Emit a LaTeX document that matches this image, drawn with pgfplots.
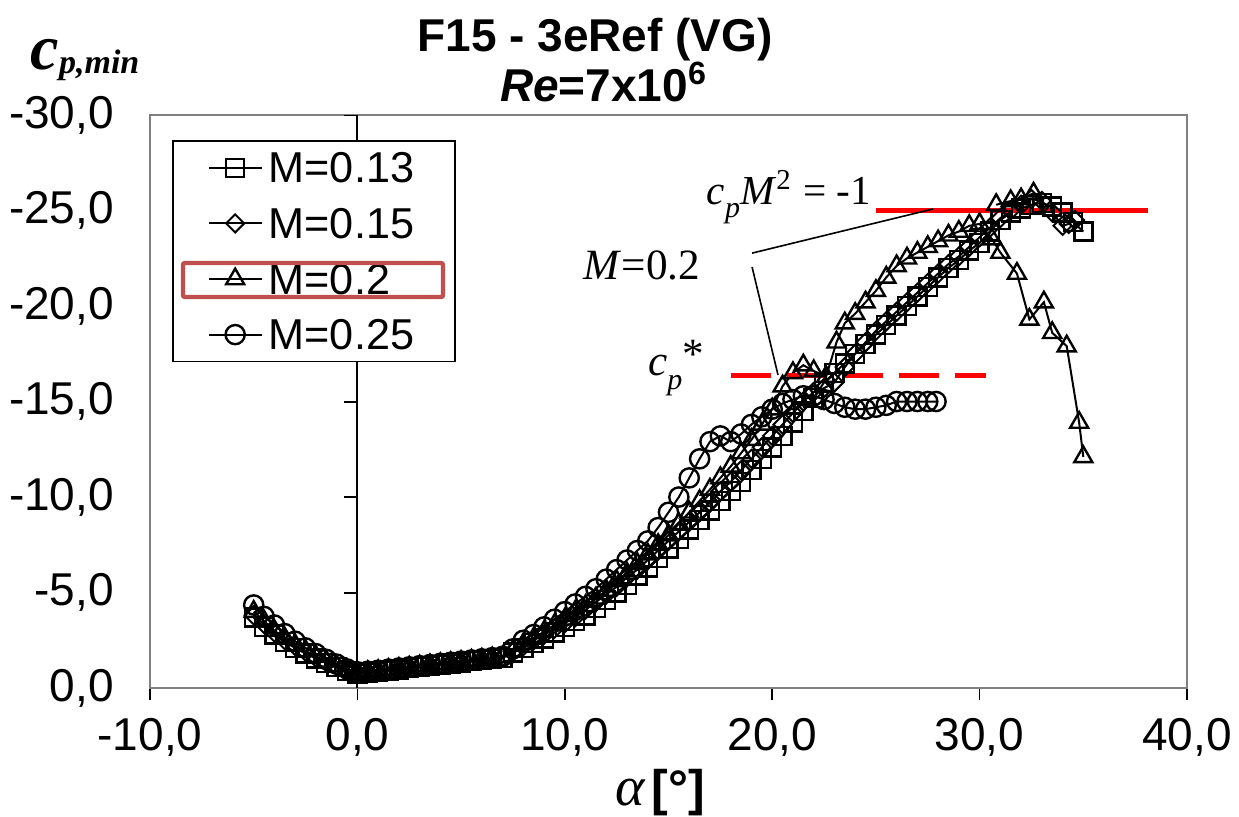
\documentclass[border=0pt]{standalone}
\usepackage{pgfplots}
\pgfplotsset{compat=1.18}
\usepackage{fontspec}
\setmainfont{Liberation Sans}
\newfontfamily\tnr{Liberation Serif}
\definecolor{legred}{HTML}{C0504D}
\definecolor{axgray}{HTML}{808080}
\begin{document}
\begin{tikzpicture}[x=1pt,y=1pt]
\begin{axis}[
  at={(0,0)}, anchor=south west,
  width=259.25pt, height=143.25pt, scale only axis,
  xmin=-10, xmax=40, ymin=-30, ymax=0, y dir=reverse,
  xtick={-10,0,...,40}, ytick={-30,-25,...,0},
  xtick pos=lower, ytick pos=left,
  axis line style={axgray, line width=0.6pt},
  tick align=outside,
  xtick style={black, line width=0.4pt},
  major tick length=3pt,
  ytick style={draw=none},
  tick label style={font=\fontsize{11.5}{12}\selectfont},
  yticklabel style={xshift=-2.5pt},
  xticklabel style={yshift=-1pt},
  /pgf/number format/fixed,
  /pgf/number format/fixed zerofill,
  /pgf/number format/precision=1,
  /pgf/number format/use comma,
  /pgf/number format/assume math mode=true,
  every axis plot/.append style={black, line width=0.5pt, mark options={solid, line width=0.6pt}},
  legend image code/.code={\draw[mark repeat=2,mark phase=2,#1] plot coordinates {(0pt,0pt) (6.6pt,0pt) (13.25pt,0pt)};},
  legend cell align=left,
  legend style={at={(axis description cs:0.0212,0.9564)}, anchor=north west, draw=black, line width=0.4pt, fill=white,
    font=\fontsize{10.8}{12}\selectfont, inner xsep=8.75pt, inner ysep=0.5pt, row sep=1.4pt,
    nodes={inner sep=1.5pt, text height=8.5pt, text depth=1pt}},
]
% axis line at alpha = 0 with its ticks
\draw[black, line width=0.5pt] (axis cs:0,-30) -- (axis cs:0,0);
\pgfplotsinvokeforeach{-30,-25,-20,-15,-10,-5}{\draw[black, line width=0.5pt] (axis cs:0,#1) -- ++(-3.25pt,0pt);}

% M=0.13
\addplot[mark=square, mark size=2.25pt] coordinates {
(-5,-3.7) (-4.5,-3.2) (-4,-2.8) (-3.5,-2.4) (-3,-2.1) (-2.5,-1.8) (-2,-1.55) (-1.5,-1.3) (-1,-1.1) (-0.5,-0.9)
(0,-0.75) (0.5,-0.8) (1,-0.86) (1.5,-0.92) (2,-0.98) (2.5,-1.04) (3,-1.1) (3.5,-1.16) (4,-1.22) (4.5,-1.28)
(5,-1.34) (5.5,-1.4) (6,-1.46) (6.5,-1.52) (7,-1.58) (7.5,-1.85) (8,-2.1) (8.5,-2.35) (9,-2.6) (9.5,-2.9)
(10,-3.2) (10.5,-3.5) (11,-3.8) (11.5,-4.2) (12,-4.6) (12.5,-5.0) (13,-5.4) (13.5,-5.9) (14,-6.3) (14.5,-6.8)
(15,-7.3) (15.5,-7.8) (16,-8.3) (16.5,-8.8) (17,-9.3) (17.5,-9.8) (18,-10.3) (18.5,-10.8) (19,-11.4) (19.5,-12.0)
(20,-12.6) (20.5,-13.2) (21,-13.9) (21.5,-14.5) (22,-15.2) (22.5,-16.0) (23,-16.5) (23.5,-17.0) (24,-17.5) (24.5,-18.0)
(25,-18.5) (25.5,-19.0) (26,-19.5) (26.5,-20.0) (27,-20.5) (27.5,-21.0) (28,-21.5) (28.5,-22.0) (29,-22.4) (29.5,-22.9)
(30,-23.3) (30.5,-23.9) (31,-24.5) (31.5,-24.9) (32,-25.1) (32.5,-25.3) (33,-25.4) (33.5,-25.2) (34,-24.9) (34.5,-24.4) (35,-23.9)
};
\addlegendentry{M=0.13}
% M=0.15
\addplot[mark=square, mark size=1.6pt, mark options={rotate=45}] coordinates {
(-5,-3.8) (-4.5,-3.35) (-4,-2.9) (-3.5,-2.5) (-3,-2.2) (-2.5,-1.9) (-2,-1.6) (-1.5,-1.35) (-1,-1.15) (-0.5,-0.95)
(0,-0.8) (0.5,-0.84) (1,-0.9) (1.5,-0.96) (2,-1.02) (2.5,-1.08) (3,-1.14) (3.5,-1.2) (4,-1.26) (4.5,-1.32)
(5,-1.38) (5.5,-1.44) (6,-1.5) (6.5,-1.56) (7,-1.62) (7.5,-1.9) (8,-2.2) (8.5,-2.5) (9,-2.8) (9.5,-3.1)
(10,-3.4) (10.5,-3.7) (11,-4.1) (11.5,-4.5) (12,-4.9) (12.5,-5.3) (13,-5.8) (13.5,-6.2) (14,-6.7) (14.5,-7.2)
(15,-7.7) (15.5,-8.2) (16,-8.7) (16.5,-9.2) (17,-9.7) (17.5,-10.3) (18,-10.8) (18.5,-11.4) (19,-12.0) (19.5,-12.6)
(20,-13.2) (20.5,-13.8) (21,-14.4) (21.5,-15.0) (22,-15.5) (22.5,-15.7) (23,-16.0) (23.5,-16.8) (24,-17.5) (24.5,-18.1)
(25,-18.7) (25.5,-19.2) (26,-19.7) (26.5,-20.2) (27,-20.7) (27.5,-21.2) (28,-21.7) (28.5,-22.2) (29,-22.6) (29.5,-23.1)
(30,-23.6) (30.5,-24.1) (31,-24.6) (31.5,-25.0) (32,-25.3) (32.5,-25.6) (33,-25.5) (33.5,-24.9) (34,-24.2) (34.3,-24.3) (34.6,-24.5)
};
\addlegendentry{M=0.15}
% M=0.2
\addplot[mark=triangle, mark size=2.6pt] coordinates {
(-5,-4.0) (-4.5,-3.5) (-4,-3.0) (-3.5,-2.6) (-3,-2.25) (-2.5,-1.95) (-2,-1.65) (-1.5,-1.4) (-1,-1.15) (-0.5,-0.95)
(0,-0.8) (0.5,-0.85) (1,-0.9) (1.5,-0.96) (2,-1.02) (2.5,-1.08) (3,-1.14) (3.5,-1.2) (4,-1.26) (4.5,-1.32)
(5,-1.38) (5.5,-1.44) (6,-1.5) (6.5,-1.56) (7,-1.62) (7.5,-1.95) (8,-2.3) (8.5,-2.6) (9,-2.95) (9.5,-3.3)
(10,-3.6) (10.5,-4.0) (11,-4.3) (11.5,-4.7) (12,-5.1) (12.5,-5.6) (13,-6.0) (13.5,-6.5) (14,-7.0) (14.5,-7.5)
(15,-8.0) (15.5,-8.6) (16,-9.2) (16.5,-9.8) (17,-10.4) (17.5,-11.0) (18,-11.6) (18.5,-12.3) (19,-13.0) (19.5,-13.8)
(20,-14.6) (20.5,-15.8) (21,-16.5) (21.5,-16.9) (22,-16.6) (22.6,-16.3) (23.1,-18.1) (23.5,-19.1) (24,-19.6) (24.5,-20.2)
(25,-20.8) (25.5,-21.5) (26,-22.1) (26.5,-22.5) (27,-22.8) (27.5,-23.1) (28,-23.4) (28.5,-23.7) (29,-23.9) (29.5,-24.2)
(30,-24.3) (30.6,-23.5) (31,-22.8) (31.8,-21.7) (32.4,-19.3) (33.1,-20.2) (33.5,-18.6) (34.2,-17.9) (34.8,-13.9) (35,-12.1)
};
\addlegendentry{M=0.2}
% M=0.25
\addplot[mark=o, mark size=2.4pt] coordinates {
(-5,-4.35) (-4.5,-3.75) (-4,-3.3) (-3.5,-2.85) (-3,-2.45) (-2.5,-2.1) (-2,-1.8) (-1.5,-1.5) (-1,-1.25) (-0.5,-1.0)
(0,-0.85) (0.5,-0.88) (1,-0.93) (1.5,-0.99) (2,-1.05) (2.5,-1.11) (3,-1.17) (3.5,-1.23) (4,-1.29) (4.5,-1.35)
(5,-1.41) (5.5,-1.47) (6,-1.53) (6.5,-1.59) (7,-1.66) (7.5,-2.05) (8,-2.5) (8.5,-2.8) (9,-3.2) (9.5,-3.6)
(10,-4.0) (10.5,-4.4) (11,-4.8) (11.5,-5.2) (12,-5.7) (12.5,-6.2) (13,-6.7) (13.5,-7.2) (14,-7.7) (14.5,-8.4)
(15,-9.2) (15.5,-10.0) (16,-11.0) (16.5,-12.0) (17,-12.9) (17.5,-13.2) (18,-12.9) (18.5,-13.3) (19,-13.8) (19.5,-14.2)
(20,-14.6) (20.5,-14.9) (21,-15.1) (21.5,-15.3) (22,-15.3) (22.5,-15.1) (23,-14.9) (23.5,-14.7) (24,-14.6) (24.5,-14.6)
(25,-14.7) (25.5,-14.8) (26,-15.0) (26.5,-15.0) (27,-15.0) (27.5,-15.0) (27.9,-15.0)
};
\addlegendentry{M=0.25}
% extra M=0.2 points near the top
\addplot[mark=triangle, mark size=2.6pt, forget plot] coordinates {(30.8,-25.3) (31.5,-25.5) (32,-25.6) (32.6,-25.9)};

% reference lines
\addplot[red, line width=1.25pt, no marks, forget plot] coordinates {(25,-25) (38.1,-25)};
\addplot[red, line width=1.25pt, no marks, dash pattern=on 10pt off 4pt, forget plot] coordinates {(18,-16.35) (30.3,-16.35)};

% annotations
\draw[black, line width=0.4pt] (axis cs:19.03,-22.77) -- (axis cs:27.75,-25.08);
\draw[black, line width=0.4pt] (axis cs:19.03,-22.04) -- (axis cs:20.28,-16.39);
\node[anchor=east, inner sep=0pt, font=\tnr\fontsize{10.3}{11}\selectfont] at (axis cs:24.8,-25.7)
  {\textit{c}\raisebox{-0.32em}{\fontsize{7.5}{8}\selectfont\itshape p}\textit{M}\textsuperscript{2} = -1};
\node[inner sep=0pt, font=\tnr\fontsize{10.8}{11}\selectfont] at (axis cs:13.72,-22.15) {\textit{M}=0.2};
\node[inner sep=0pt, font=\tnr\fontsize{10.8}{11}\selectfont] at (axis cs:15.36,-16.75)
  {\textit{c}\raisebox{-0.32em}{\fontsize{7.5}{8}\selectfont\itshape p}\raisebox{0.15em}{*}};
\end{axis}
% highlight box round the M=0.2 legend entry
\draw[legred, line width=1.1pt, rounded corners=0.5pt] (8.25,97.75) rectangle (73.25,106.25);
% titles and axis labels
\node[font=\fontsize{11.5}{12}\selectfont\bfseries] at (111.25,162) {F15 - 3eRef (VG)};
\node[font=\fontsize{11.5}{12}\selectfont\bfseries] at (113.5,151.5) {\textit{Re}=7x10\textsuperscript{6}};
\node[inner sep=0pt, font=\tnr\bfseries\itshape] at (-16.25,157)
  {{\fontsize{16}{16}\selectfont c}\raisebox{-1pt}{\fontsize{8.5}{9}\selectfont p,min}};
\node[inner sep=0pt] at (127.5,-26.25)
  {{\tnr\itshape\fontsize{14}{14}\selectfont α}\,{\bfseries\fontsize{12.5}{13}\selectfont [°]}};
\pgfresetboundingbox
\path[use as bounding box] (-37.5,-32) rectangle (272.25,172);
\end{tikzpicture}
\end{document}
